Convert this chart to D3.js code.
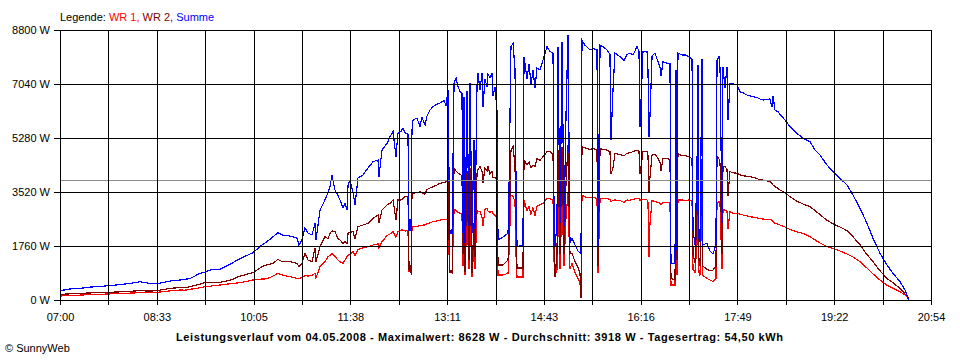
<!DOCTYPE html>
<html><head><meta charset="utf-8">
<script src="https://cdn.jsdelivr.net/npm/d3@7"></script>
<style>
body{margin:0;background:#fff}
svg{display:block}
text{font-family:Arial,"Liberation Sans",sans-serif;font-size:11px}
</style>
</head><body><svg id="c" width="960" height="360"></svg>
<script>
// minutes after 07:00
const times=[0,9.6,19.2,28.7,38.3,46.0,57.5,67.0,76.6,86.2,92.9,100.5,107.2,114.9,119.7,124.5,134.1,138.8,143.6,153.2,162.8,172.4,184.8,193.4,198.2,204.0,208.7,212.6,220.2,226.9,228.8,231.7,234.6,237.5,241.3,244.2,245.1,249.0,253.7,256.6,258.5,260.4,263.3,266.2,268.1,271.0,272.9,274.8,275.8,277.7,280.6,282.5,285.3,290.1,294.9,299.7,304.5,305.4,308.3,313.1,316.0,318.9,321.7,323.6,326.5,328.4,330.3,333.2,334.2,336.1,337.0,338.0,341.8,344.7,346.6,349.5,351.4,354.3,357.2,361.0,363.9,367.7,369.6,371.5,372.5,373.4,375.4,377.3,379.2,381.1,383.0,384.9,385.9,386.8,387.8,389.7,391.6,392.6,394.5,396.4,397.4,399.3,400.2,402.2,404.1,405.0,406.9,408.9,409.8,411.7,413.6,414.6,416.5,418.4,419.4,424.2,429.0,429.9,431.8,433.8,435.7,436.6,437.6,443.3,444.3,447.2,449.1,451.0,452.9,454.8,456.7,459.6,462.5,466.3,469.2,472.1,473.0,474.0,475.9,476.8,478.8,480.7,482.6,484.5,486.4,488.3,490.2,493.1,496.0,497.9,498.9,499.8,502.7,504.6,507.5,510.4,514.2,515.1,517.1,519.9,523.8,526.6,527.6,529.5,531.4,536.2,540.0,542.9,545.8,548.7,552.5,554.4,555.4,558.2,562.1,563.0,564.0,564.9,566.9,569.7,572.6,574.5,575.5,577.4,581.2,584.1,585.0,588.9,589.8,590.8,591.7,595.6,599.4,603.2,605.2,606.1,608.0,609.9,610.9,611.8,612.8,614.7,615.6,619.5,622.4,625.3,628.1,629.1,631.0,632.0,633.9,634.8,636.7,638.7,639.6,641.5,644.4,648.2,651.1,654.0,657.8,660.7,663.6,667.4,670.3,673.1,677.0,679.8,681.7,682.7,684.6,687.5,689.4,694.2,699.0,705.7,711.4,718.1,722.9,727.7,734.4,740.2,746.9,753.6,759.3,766.0,772.7,778.5,785.2,791.9,797.6,804.3,809.1,812.0,812.9];
const summe=[303,360,380,420,440,466,500,540,596,540,531,580,629,650,674,700,870,900,978,1000,1163,1350,1541,1793,1900,2063,2193,2118,2086,2020,1793,1955,2346,2183,2118,2509,1955,2933,3259,3500,3692,4074,3585,3400,3259,3000,3161,2950,3748,3900,3487,3100,3976,4074,4302,4507,4563,4000,4889,5100,5322,5485,4670,5442,5500,5605,5450,5400,2281,2281,5500,5866,5931,5650,5950,5703,6000,6192,6300,6380,6420,6500,6350,6844,4000,2183,2183,7072,7235,6950,6800,6735,2183,6600,1858,6800,2400,7061,2183,5200,2300,7000,7387,6850,7400,6300,7200,6950,7350,7250,7387,6650,6950,6192,1955,2050,2172,3500,8255,8364,7496,4000,1737,1800,7930,7200,7700,7000,7500,6900,7550,7500,7822,8255,8100,8049,3000,1737,2500,8255,2500,8420,2400,6000,8628,1858,2000,1800,1600,1530,1530,8473,8300,8250,8150,8200,8150,1737,8310,8255,8150,8000,5214,6844,8049,7930,7800,8000,8050,7985,8255,8100,5638,8100,8100,7500,5322,6000,7950,8049,7767,7600,7300,7767,7714,7714,1200,1200,7496,1630,8049,7985,7985,7900,7850,2281,1800,4140,7650,2000,1900,7850,1800,1850,1600,1500,1800,7822,7930,7550,2500,7600,6909,7600,5866,7061,7050,7007,6790,6750,6681,6650,6627,6600,6550,6518,6530,6551,6300,6650,6192,6137,6050,5866,5649,5432,5269,5159,4889,4726,4400,4181,3966,3748,3422,2988,2500,2011,1522,1141,869,597,326,55,0];
const wr2=[185,200,215,230,240,250,265,285,303,290,303,350,385,402,395,434,520,565,560,576,640,780,890,1086,1150,1195,1326,1250,1250,1195,1100,1195,1521,1300,1250,1684,1250,1738,2063,2000,2172,2250,2226,2000,1955,1848,1900,1848,2172,2200,2226,2000,2389,2444,2500,2662,2770,2500,2933,3096,3150,3259,2607,3259,3259,3300,3367,3380,1000,880,3400,3476,3500,3530,3500,3450,3600,3650,3693,3750,3802,3830,3856,3880,2063,900,880,4291,4200,4139,4100,4050,1500,4000,900,4200,1300,4300,880,2500,1400,4139,4250,4345,4200,3800,4300,4200,4350,4100,4200,4000,4000,3911,1141,1141,1304,2000,4889,4998,4345,2500,1043,1043,4563,4400,4500,4300,4400,4350,4600,4550,4670,4834,4834,4750,1800,760,1500,4900,1500,5000,1500,3800,5051,1500,1530,1250,1050,880,65,4998,4960,4940,4900,4940,4889,1100,4940,4900,4889,4834,4100,4300,4780,4740,4700,4780,4800,4834,4889,4850,4100,4834,4834,4700,3476,4000,4726,4750,4617,4500,4200,4617,4617,4563,700,650,4400,1300,4780,4700,4700,4650,4600,1500,1200,2800,4500,1300,1100,4600,1100,1000,950,978,1100,4670,4600,4450,1500,4345,4345,4250,3400,4182,4150,4128,4080,4052,4030,4019,4000,3960,3911,3911,3880,3856,3800,3750,3693,3639,3585,3497,3367,3220,3130,3041,2920,2780,2600,2480,2380,2260,2060,1800,1480,1250,950,700,560,380,200,90,0];
const wr1=[130,150,160,175,185,196,210,225,238,240,250,280,305,326,320,347,400,434,450,489,530,565,652,684,690,780,869,815,760,706,700,730,790,782,800,869,720,1086,1250,1412,1450,1521,1412,1300,1250,1200,1300,1412,1450,1500,1575,1450,1650,1700,1738,1793,1830,1700,1900,2100,2150,2226,2050,2226,2281,2281,2250,2260,923,923,2300,2389,2400,2420,2440,2444,2480,2520,2553,2580,2607,2620,2629,2629,1521,950,900,2933,2933,2850,2825,2800,1100,2750,800,2850,1000,2870,760,1800,1000,2900,2900,2877,2700,2400,2950,2988,2900,2850,2900,2825,2750,2662,815,815,870,1500,3422,3380,3200,1500,750,750,3259,2900,3050,2800,3000,2750,3050,3100,3150,3313,3300,3259,1300,760,1000,3350,1000,3380,1100,2700,3476,1000,1200,900,700,560,65,3422,3360,3340,3330,3340,3313,880,3320,3300,3300,3280,3200,3250,3259,3240,3180,3260,3250,3280,3313,3300,3250,3290,3259,3200,1412,2500,3250,3210,3178,3150,3100,3178,3170,3160,489,489,3200,800,3259,3259,3250,3259,3240,1000,900,1800,3200,900,800,3200,800,700,650,600,700,3150,3200,3100,1000,2933,2933,2900,2300,2880,2825,2810,2803,2770,2740,2715,2700,2680,2650,2640,2620,2629,2600,2560,2500,2470,2444,2380,2300,2220,2172,2063,1960,1860,1740,1680,1597,1500,1400,1250,1040,850,650,480,380,270,160,90,0];

const yTicks=[0,1760,3520,5280,7040,8800];
const xTickLabels=["07:00","08:33","10:05","11:38","13:11","14:43","16:16","17:49","19:22","20:54"];
const totalMinutes=834;
const average=3918;
const legendItems=[{name:"WR 1",color:"#ff0000"},{name:"WR 2",color:"#800000"},{name:"Summe",color:"#0000ff"}];

const svg=d3.select("#c");
const x=d3.scaleLinear().domain([0,totalMinutes]).range([60,931]);
const y=d3.scaleLinear().domain([0,8800]).range([300,30]);
const xTicks=d3.range(19).map(i=>i*totalMinutes/18);
const snap=v=>Math.round(v)+0.5;

// data lines
const series=[{v:wr1,c:"#ff0000"},{v:wr2,c:"#800000"},{v:summe,c:"#0000ff"}];
series.forEach(s=>{
  svg.append("path")
    .attr("d",d3.line().x((d,i)=>x(times[i])).y(d=>y(d))(s.v))
    .attr("fill","none").attr("stroke",s.c).attr("stroke-width",1.2)
    .attr("stroke-linejoin","miter").attr("shape-rendering","crispEdges");
});

// average line
svg.append("line").attr("x1",x(0)).attr("x2",x(totalMinutes))
  .attr("y1",snap(y(average))).attr("y2",snap(y(average)))
  .attr("stroke","#8c8c8c").attr("stroke-width",1).attr("shape-rendering","crispEdges");

// grid
const g=svg.append("g").attr("shape-rendering","crispEdges");
yTicks.forEach(v=>{
  g.append("line").attr("x1",x(0)).attr("x2",x(totalMinutes)+1)
   .attr("y1",snap(y(v))).attr("y2",snap(y(v))).attr("stroke","#000");
});
xTicks.forEach(v=>{
  g.append("line").attr("x1",snap(x(v))).attr("x2",snap(x(v)))
   .attr("y1",y(8800)).attr("y2",y(0)+1).attr("stroke","#000");
});

// axes
const ya=svg.append("g").attr("transform","translate(60,0)")
  .call(d3.axisLeft(y).tickValues(yTicks).tickSizeInner(6).tickSizeOuter(0).tickPadding(4).tickFormat(d=>d+" W"));
const xa=svg.append("g").attr("transform","translate(0,300)")
  .call(d3.axisBottom(x).tickValues(xTicks).tickSizeInner(5).tickSizeOuter(0).tickPadding(8)
  .tickFormat((d,i)=>i%2?"":xTickLabels[i/2]));
[ya,xa].forEach(a=>{
  a.select(".domain").remove();
  a.selectAll("line").attr("stroke","#000").attr("shape-rendering","crispEdges");
  a.selectAll("text").attr("fill","#000").style("font-family","Arial, 'Liberation Sans', sans-serif").style("font-size","11px");
});

// legend
const lg=svg.append("text").attr("x",60).attr("y",21);
lg.append("tspan").text("Legende: ").attr("fill","#000");
legendItems.forEach((it,i)=>{
  lg.append("tspan").attr("fill",it.color).text(it.name+(i<legendItems.length-1?", ":""));
});

// title
svg.append("text").attr("x",176).attr("y",341)
  .attr("textLength",607).attr("lengthAdjust","spacing")
  .style("font-weight","bold").attr("fill","#000")
  .text("Leistungsverlauf vom 04.05.2008 - Maximalwert: 8628 W - Durchschnitt: 3918 W - Tagesertrag: 54,50 kWh");

svg.append("text").attr("x",5).attr("y",352).attr("fill","#000").text("© SunnyWeb");
</script>
</body></html>
